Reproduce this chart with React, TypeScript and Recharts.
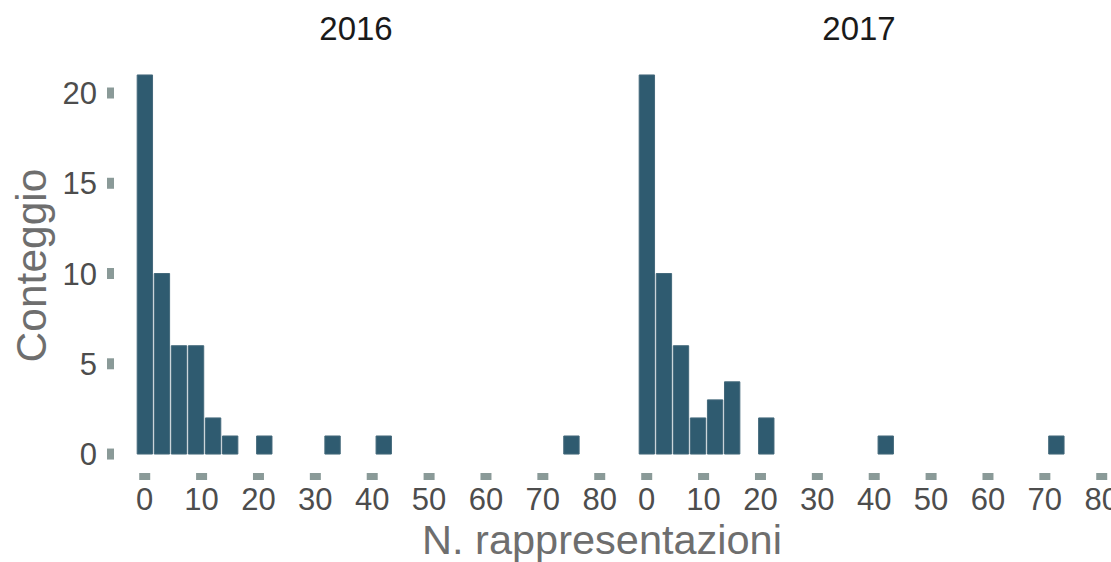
import React from "react";
import { BarChart, Bar, XAxis, YAxis } from "recharts";

// centri dei bin (larghezza 3)
const binCenters = [0, 3, 6, 9, 12, 15, 18, 21, 24, 27, 30, 33, 36, 39, 42, 45, 48, 51, 54, 57, 60, 63, 66, 69, 72, 75];
const counts2016 = [21, 10, 6, 6, 2, 1, 0, 1, 0, 0, 0, 1, 0, 0, 1, 0, 0, 0, 0, 0, 0, 0, 0, 0, 0, 1];
const counts2017 = [21, 10, 6, 2, 3, 4, 0, 2, 0, 0, 0, 0, 0, 0, 1, 0, 0, 0, 0, 0, 0, 0, 0, 0, 1, 0];
const xTicks = [0, 10, 20, 30, 40, 50, 60, 70, 80];
const yTicks = [0, 5, 10, 15, 20];

const panels = [
  { title: "2016", counts: counts2016 },
  { title: "2017", counts: counts2017 },
];

const FONT = "'Liberation Sans', Arial, Helvetica, sans-serif";
const BAR_FILL = "#2f5b70";
const TICK_COLOR = "#8a9a98";
const X_DOMAIN: [number, number] = [-5.4, 80.4];
const Y_DOMAIN: [number, number] = [-1.05, 22.05];
const PLOT_W = 488;
const BAR_W = (3 * PLOT_W) / (X_DOMAIN[1] - X_DOMAIN[0]);

const tickStyle = { fontSize: 31, fill: "#4d4d4d", fontFamily: FONT };
const tickLineStyle = { stroke: TICK_COLOR, strokeWidth: 11 };

function Panel({ counts, withY }: { counts: number[]; withY: boolean }) {
  const data = binCenters.map((x, i) => ({ x, n: counts[i] }));
  const width = withY ? 620 : 509;
  const margin = withY
    ? { top: 56, right: 620 - 114 - PLOT_W, bottom: 0, left: 0 }
    : { top: 56, right: 509 - 14 - PLOT_W, bottom: 0, left: 14 };
  return (
    <BarChart width={width} height={562} data={data} margin={margin} barCategoryGap={0} barGap={0}>
      <XAxis
        dataKey="x"
        type="number"
        domain={X_DOMAIN}
        ticks={xTicks}
        allowDataOverflow
        interval={0}
        height={89}
        axisLine={false}
        tickLine={tickLineStyle}
        tickSize={7}
        tickMargin={8}
        tick={tickStyle}
      />
      <YAxis
        hide={!withY}
        type="number"
        domain={Y_DOMAIN}
        ticks={yTicks}
        allowDataOverflow
        interval={0}
        width={114}
        axisLine={false}
        tickLine={tickLineStyle}
        tickSize={7}
        tickMargin={10}
        tick={tickStyle}
      />
      <Bar
        dataKey="n"
        fill={BAR_FILL}
        stroke="#44697b"
        strokeWidth={1}
        barSize={BAR_W}
        isAnimationActive={false}
      />
    </BarChart>
  );
}

export default function App() {
  return (
    <div style={{ position: "absolute", left: 0, top: 0, width: 1111, height: 562, background: "#fff", fontFamily: FONT, overflow: "hidden" }}>
      <div style={{ position: "absolute", left: 0, top: 0 }}>
        <Panel counts={panels[0].counts} withY />
      </div>
      <div style={{ position: "absolute", left: 602, top: 0 }}>
        <Panel counts={panels[1].counts} withY={false} />
      </div>
      {panels.map((p, i) => (
        <div
          key={p.title}
          style={{
            position: "absolute",
            left: (i === 0 ? 356 : 859) - 100,
            top: 12,
            width: 200,
            textAlign: "center",
            fontSize: 33,
            lineHeight: "33px",
            color: "#1a1a1a",
          }}
        >
          {p.title}
        </div>
      ))}
      <div
        style={{
          position: "absolute",
          left: 302,
          top: 523,
          width: 600,
          textAlign: "center",
          fontSize: 41.5,
          lineHeight: "34px",
          color: "#6e6e6e",
        }}
      >
        N. rappresentazioni
      </div>
      <div
        style={{
          position: "absolute",
          left: 31 - 150,
          top: 265 - 20.5,
          width: 300,
          textAlign: "center",
          fontSize: 42.5,
          lineHeight: "41px",
          color: "#6e6e6e",
          transform: "rotate(-90deg)",
        }}
      >
        Conteggio
      </div>
    </div>
  );
}
